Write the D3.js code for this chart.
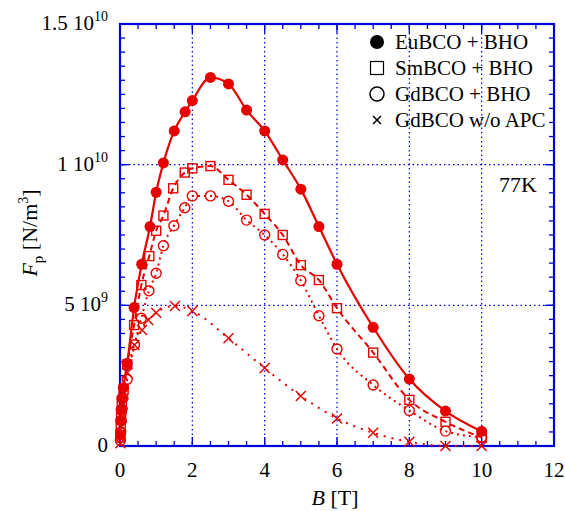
<!DOCTYPE html>
<html>
<head>
<meta charset="utf-8">
<script src="https://cdn.jsdelivr.net/npm/d3@7"></script>
<style>
body { margin: 0; background: white; }
.grid { stroke: #0000dd; stroke-width: 1.2; stroke-dasharray: 1.5,3; }
</style>
</head>
<body>
<div id="chart"></div>
<script>
// B [T] and Fp [10^9 N/m^3]
var euB = [0.01, 0.02, 0.03, 0.05, 0.09, 0.2, 0.39, 0.6, 0.83, 1.0, 1.2, 1.5, 1.8, 2.0, 2.5, 3.0, 3.5, 4.0, 4.5, 5.0, 5.5, 6.0, 7.0, 8.0, 9.0, 10.0];
var euF = [0.4, 0.9, 1.3, 1.7, 2.07, 2.94, 4.92, 6.46, 7.8, 9.02, 10.06, 11.2, 11.88, 12.28, 13.1, 12.87, 11.94, 11.2, 10.17, 9.13, 7.8, 6.46, 4.22, 2.38, 1.24, 0.52];

var smB = [0.01, 0.02, 0.03, 0.05, 0.1, 0.2, 0.39, 0.59, 0.81, 1.0, 1.2, 1.47, 1.79, 2.0, 2.5, 3.0, 3.5, 4.0, 4.5, 5.0, 5.5, 6.0, 7.0, 8.0, 9.0, 10.0];
var smF = [0.3, 0.7, 1.1, 1.5, 2.0, 2.9, 4.3, 5.72, 6.75, 7.65, 8.19, 9.16, 9.72, 9.87, 9.95, 9.46, 8.93, 8.25, 7.5, 6.43, 5.9, 4.9, 3.32, 1.64, 0.86, 0.3];

var gdB = [0.01, 0.02, 0.03, 0.05, 0.08, 0.2, 0.4, 0.59, 0.8, 1.0, 1.2, 1.49, 1.79, 2.0, 2.5, 3.0, 3.5, 4.0, 4.5, 5.0, 5.5, 6.0, 7.0, 8.0, 9.0, 10.0];
var gdF = [0.2, 0.5, 0.9, 1.3, 1.7, 2.37, 3.6, 4.54, 5.52, 6.14, 7.12, 7.83, 8.47, 8.89, 8.89, 8.7, 8.03, 7.5, 6.81, 5.88, 4.63, 3.45, 2.17, 1.26, 0.53, 0.31];

var woB = [0.01, 0.02, 0.03, 0.05, 0.08, 0.2, 0.4, 0.61, 0.78, 1.0, 1.52, 2.0, 3.0, 4.0, 5.0, 6.0, 7.0, 8.0, 9.0, 10.0];
var woF = [0.1, 0.4, 0.7, 1.0, 1.5, 2.6, 3.59, 4.12, 4.48, 4.74, 4.98, 4.8, 3.83, 2.77, 1.78, 0.98, 0.47, 0.15, 0.0, 0.0];

var legendNames = ["EuBCO + BHO", "SmBCO + BHO", "GdBCO + BHO", "GdBCO w/o APC"];
var xTicks = [0, 2, 4, 6, 8, 10, 12];
var yTickVals = [0, 5, 10, 15];
var yTickMant = ["0", "5 10", "1 10", "1.5 10"];
var yTickExp = ["", "9", "10", "10"];

var red = "#e60000", blue = "#0000dd";
var margin = {left: 120, top: 24, right: 11, bottom: 65};
var width = 434, height = 422;

var svg = d3.select("#chart").append("svg")
  .attr("width", 565).attr("height", 511)
  .attr("font-family", "Liberation Serif, Times New Roman, serif");
var g = svg.append("g").attr("transform", "translate(" + margin.left + "," + margin.top + ")");

var x = d3.scaleLinear().domain([0, 12]).range([0, width]);
var y = d3.scaleLinear().domain([0, 15]).range([height, 0]);

// grid lines
g.append("g").selectAll("line").data([2, 4, 6, 8, 10]).enter().append("line")
  .attr("class", "grid")
  .attr("x1", d => x(d)).attr("x2", d => x(d)).attr("y1", 0).attr("y2", height);
g.append("g").selectAll("line").data([5, 10]).enter().append("line")
  .attr("class", "grid")
  .attr("x1", 0).attr("x2", width).attr("y1", d => y(d)).attr("y2", d => y(d));

// minor/major ticks inward on all four sides
var xMinor = d3.range(0, 12.01, 0.5), yMinor = d3.range(0, 15.01, 0.5);
function tickLines(vals, isX, pos, len) {
  g.append("g").selectAll("line").data(vals).enter().append("line")
    .attr("stroke", blue).attr("stroke-width", 1.3)
    .attr("x1", d => isX ? x(d) : pos).attr("x2", d => isX ? x(d) : pos + len)
    .attr("y1", d => isX ? pos : y(d)).attr("y2", d => isX ? pos + len : y(d));
}
tickLines(xMinor, true, height, -5);
tickLines(xMinor, true, 0, 5);
tickLines(yMinor, false, 0, 5);
tickLines(yMinor, false, width, -5);
tickLines(xTicks, true, height, -9);
tickLines(xTicks, true, 0, 9);
tickLines(yTickVals, false, 0, 9);
tickLines(yTickVals, false, width, -9);

g.append("rect").attr("width", width).attr("height", height)
  .attr("fill", "none").attr("stroke", blue).attr("stroke-width", 2.2);

// tick labels
g.append("g").selectAll("text").data(xTicks).enter().append("text")
  .attr("x", d => x(d)).attr("y", height + 31)
  .attr("text-anchor", "middle").style("font-size", "21px")
  .text(d => d);

var yl = g.append("g").selectAll("text").data(yTickVals).enter().append("text")
  .attr("x", -12).attr("y", d => y(d) + 6)
  .attr("text-anchor", "end").style("font-size", "21px");
yl.each(function (d, i) {
  var t = d3.select(this);
  t.append("tspan").text(yTickMant[i]);
  if (yTickExp[i]) t.append("tspan").attr("dy", -9).style("font-size", "14px").text(yTickExp[i]);
});

// axis titles
var xt = svg.append("text").attr("x", 335).attr("y", 505).attr("text-anchor", "middle").style("font-size", "22px");
xt.append("tspan").style("font-style", "italic").text("B");
xt.append("tspan").text(" [T]");

var ytt = svg.append("text").attr("transform", "translate(37,233) rotate(-90)")
  .attr("text-anchor", "middle").style("font-size", "22px");
ytt.append("tspan").style("font-style", "italic").text("F");
ytt.append("tspan").attr("dy", 6).style("font-size", "15px").text("p");
ytt.append("tspan").attr("dy", -6).text("  [N/m");
ytt.append("tspan").attr("dy", -9).style("font-size", "14px").text("3");
ytt.append("tspan").attr("dy", 9).text("]");

g.append("text").attr("x", 379).attr("y", 168).style("font-size", "22px").text("77K");

function pts(bs, fs) { return bs.map((b, i) => ({b: b, f: fs[i]})); }
var eu = pts(euB, euF), sm = pts(smB, smF), gd = pts(gdB, gdF), wo = pts(woB, woF);

var line = d3.line().x(d => x(d.b)).y(d => y(d.f)).curve(d3.curveMonotoneX);

function drawLine(data, dash, w) {
  g.append("path").datum(data).attr("d", line)
    .attr("fill", "none").attr("stroke", red).attr("stroke-width", w)
    .attr("stroke-dasharray", dash);
}
drawLine(wo, "2,6", 2);
drawLine(gd, "2,4", 2);
drawLine(sm, "6,4", 2);
drawLine(eu, null, 2.2);

function crossPath(s) { return "M" + (-s) + "," + (-s) + "L" + s + "," + s + "M" + (-s) + "," + s + "L" + s + "," + (-s); }

g.append("g").selectAll("path").data(wo).enter().append("path")
  .attr("transform", d => "translate(" + x(d.b) + "," + y(d.f) + ")")
  .attr("d", crossPath(5)).attr("stroke", red).attr("stroke-width", 1.4).attr("fill", "none");
g.append("g").selectAll("circle").data(gd).enter().append("circle")
  .attr("cx", d => x(d.b)).attr("cy", d => y(d.f)).attr("r", 5)
  .attr("fill", "none").attr("stroke", red).attr("stroke-width", 1.4);
g.append("g").selectAll("rect").data(sm).enter().append("rect")
  .attr("x", d => x(d.b) - 4.5).attr("y", d => y(d.f) - 4.5).attr("width", 9).attr("height", 9)
  .attr("fill", "none").attr("stroke", red).attr("stroke-width", 1.4);
g.append("g").selectAll("circle").data(eu).enter().append("circle")
  .attr("cx", d => x(d.b)).attr("cy", d => y(d.f)).attr("r", 5.5)
  .attr("fill", red);

// legend
var lg = svg.append("g").attr("transform", "translate(377,42)");
legendNames.forEach(function (name, i) {
  var row = lg.append("g").attr("transform", "translate(0," + (i * 26) + ")");
  if (i == 0) row.append("circle").attr("r", 7).attr("fill", "black");
  if (i == 1) row.append("rect").attr("x", -6.5).attr("y", -6.5).attr("width", 13).attr("height", 13).attr("fill", "none").attr("stroke", "black").attr("stroke-width", 1.2);
  if (i == 2) row.append("circle").attr("r", 7).attr("fill", "none").attr("stroke", "black").attr("stroke-width", 1.5);
  if (i == 3) row.append("path").attr("d", crossPath(4)).attr("stroke", "black").attr("stroke-width", 1.5);
  row.append("text").attr("x", 18).attr("y", 7).style("font-size", "21px").text(name);
});
</script>
</body>
</html>
